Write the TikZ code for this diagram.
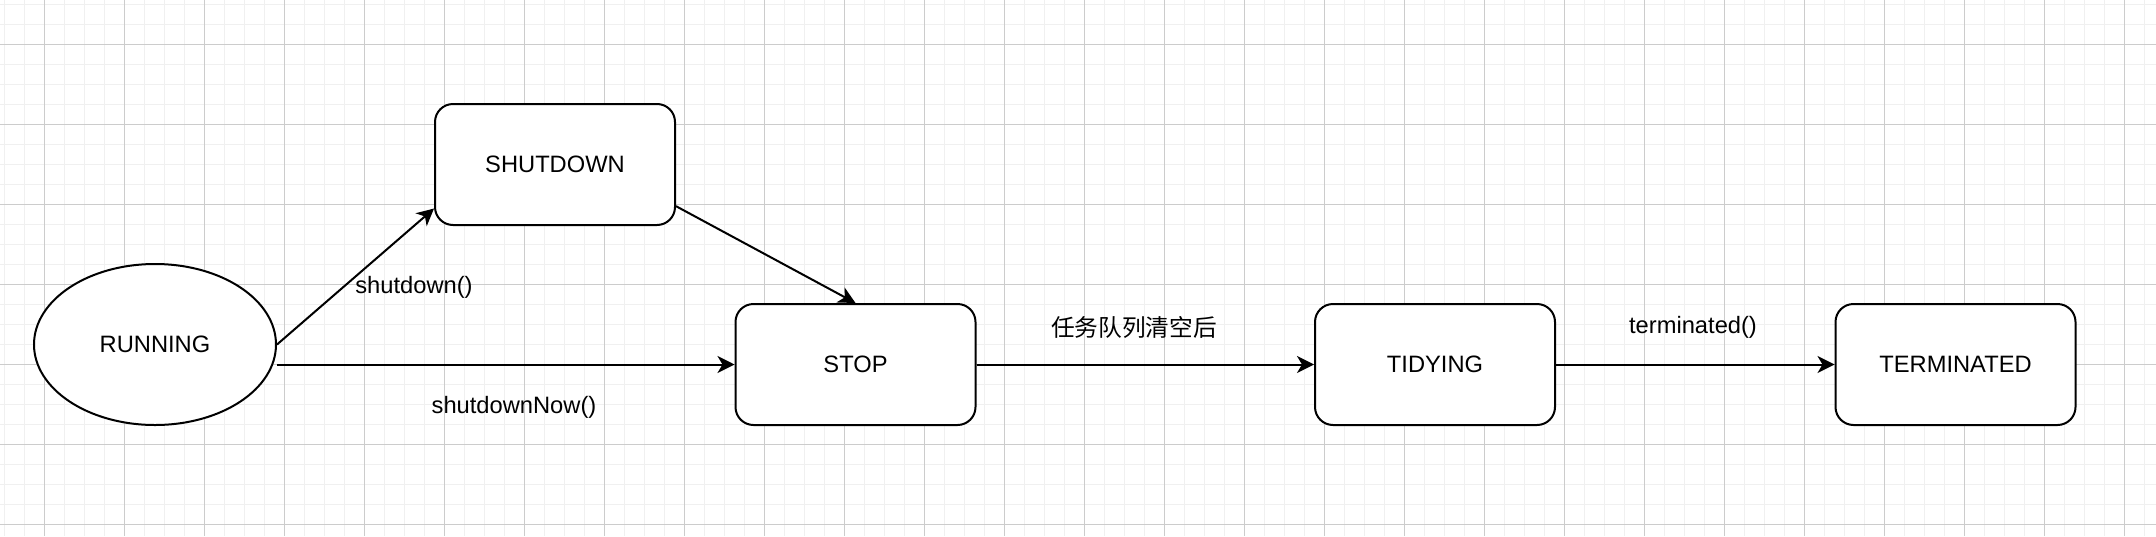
\documentclass[tikz,border=0pt]{standalone}
\usepackage{fontspec}
\setmainfont{Liberation Sans}
\newfontfamily\cjk{Noto Sans CJK SC}
\usetikzlibrary{arrows.meta,calc,shapes.geometric}

\tikzset{
	state/.style={draw=black, line width=1pt, rounded corners=9pt, fill=white,
		minimum width=120pt, minimum height=60.5pt, inner sep=0pt, font=\fontsize{11.85}{14}\selectfont},
	startstate/.style={draw=black, line width=1pt, ellipse, fill=white,
		minimum width=121pt, minimum height=80.5pt, inner sep=0pt, font=\fontsize{11.85}{14}\selectfont},
	lbl/.style={inner sep=0pt, font=\fontsize{11.85}{14}\selectfont},
	trans/.style={line width=1pt, -{Stealth[length=8.5pt, width=8.5pt, inset=2.5pt]}},
	minorgrid/.style={line width=0.5pt, color=black!6},
	majorgrid/.style={line width=0.5pt, color=black!20}
}

\begin{document}
\begin{tikzpicture}[x=0.5pt, y=-0.5pt]
			%%%%% START %%%%%
			
			\useasboundingbox[fill=white] (0, 0) rectangle (2156, 536);
			
			% grid
			\foreach \gx in {4.3, 24.3, ..., 2156} {\draw[minorgrid] (\gx, 0) -- (\gx, 536);}
			\foreach \gy in {4.3, 24.3, ..., 536} {\draw[minorgrid] (0, \gy) -- (2156, \gy);}
			\foreach \gx in {44.3, 124.3, ..., 2156} {\draw[majorgrid] (\gx, 0) -- (\gx, 536);}
			\foreach \gy in {44.3, 124.3, ..., 536} {\draw[majorgrid] (0, \gy) -- (2156, \gy);}
			
			% states
			\node[startstate] (RUNNING) at (155, 344.5) {RUNNING};
			\node[state] (SHUTDOWN) at (555, 164.5) {SHUTDOWN};
			\node[state] (STOP) at (855.5, 364.5) {STOP};
			\node[state] (TIDYING) at (1435, 364.5) {TIDYING};
			\node[state] (TERMINATED) at (1955.5, 364.5) {TERMINATED};
			
			% transitions
			\draw[trans] (RUNNING.east) -- (SHUTDOWN.200);
			\draw[trans] (SHUTDOWN.341) -- (STOP.north);
			\draw[trans] (RUNNING.east |- STOP.west) -- (STOP.west);
			\draw[trans] (STOP.east) -- (TIDYING.west);
			\draw[trans] (TIDYING.east) -- (TERMINATED.west);
			
			% labels
			\node[lbl] (lshutdown) at (414, 287) {shutdown()};
			\node[lbl] (lshutdownnow) at (514, 407) {shutdownNow()};
			\node[lbl] (lempty) at (1134, 327) {\cjk 任务队列清空后};
			\node[lbl] (lterminated) at (1693, 327) {terminated()};
			
			%%%%% END %%%%%
\end{tikzpicture}
\end{document}
